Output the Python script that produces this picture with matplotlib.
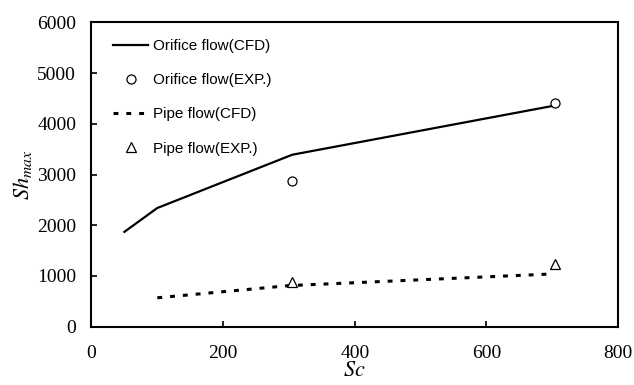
import matplotlib
matplotlib.use("Agg")
import matplotlib.pyplot as plt

plt.rcParams['mathtext.fontset'] = 'stix'

# data
sc_orifice_cfd = [50, 100, 305, 700]
sh_orifice_cfd = [1870, 2340, 3390, 4350]
sc_orifice_exp = [305, 705]
sh_orifice_exp = [2880, 4400]
sc_pipe_cfd = [100, 300, 700]
sh_pipe_cfd = [570, 810, 1040]
sc_pipe_exp = [305, 705]
sh_pipe_exp = [880, 1230]

fig = plt.figure(figsize=(6.34, 3.85), dpi=100)
ax = fig.add_axes([0.1443, 0.1514, 0.8305, 0.7906])

ax.plot(sc_orifice_cfd, sh_orifice_cfd, color='black', lw=1.6, label='Orifice flow(CFD)')
ax.plot(sc_orifice_exp, sh_orifice_exp, 'o', ms=6.5, mfc='white', mec='black', mew=0.9,
        label='Orifice flow(EXP.)')
ax.plot(sc_pipe_cfd, sh_pipe_cfd, color='black', lw=2.2, linestyle=(0, (1.6, 2.6)),
        label='Pipe flow(CFD)')
ax.plot(sc_pipe_exp, sh_pipe_exp, '^', ms=7, mfc='white', mec='black', mew=0.9,
        label='Pipe flow(EXP.)')

ax.set_xlim(0, 800)
ax.set_ylim(0, 6000)
ax.set_xticks([0, 200, 400, 600, 800])
ax.set_yticks(range(0, 7000, 1000))
ax.tick_params(direction='in', length=4, width=1.2, labelsize=14)
ax.tick_params(axis='x', pad=13)
ax.tick_params(axis='y', pad=11)
for lab in ax.get_xticklabels() + ax.get_yticklabels():
    lab.set_fontfamily('Liberation Serif')
for s in ax.spines.values():
    s.set_linewidth(1.5)

ax.set_xlabel('$Sc$', fontsize=16, labelpad=-1)
ax.set_ylabel('$Sh_{max}$', fontsize=16, labelpad=2)

ax.legend(loc='upper left', frameon=False, prop={'family': 'Liberation Sans', 'size': 11},
          labelspacing=1.32, handlelength=2.3, handletextpad=0.3,
          bbox_to_anchor=(0.015, 0.99))

fig.savefig('out.png', dpi=100)
